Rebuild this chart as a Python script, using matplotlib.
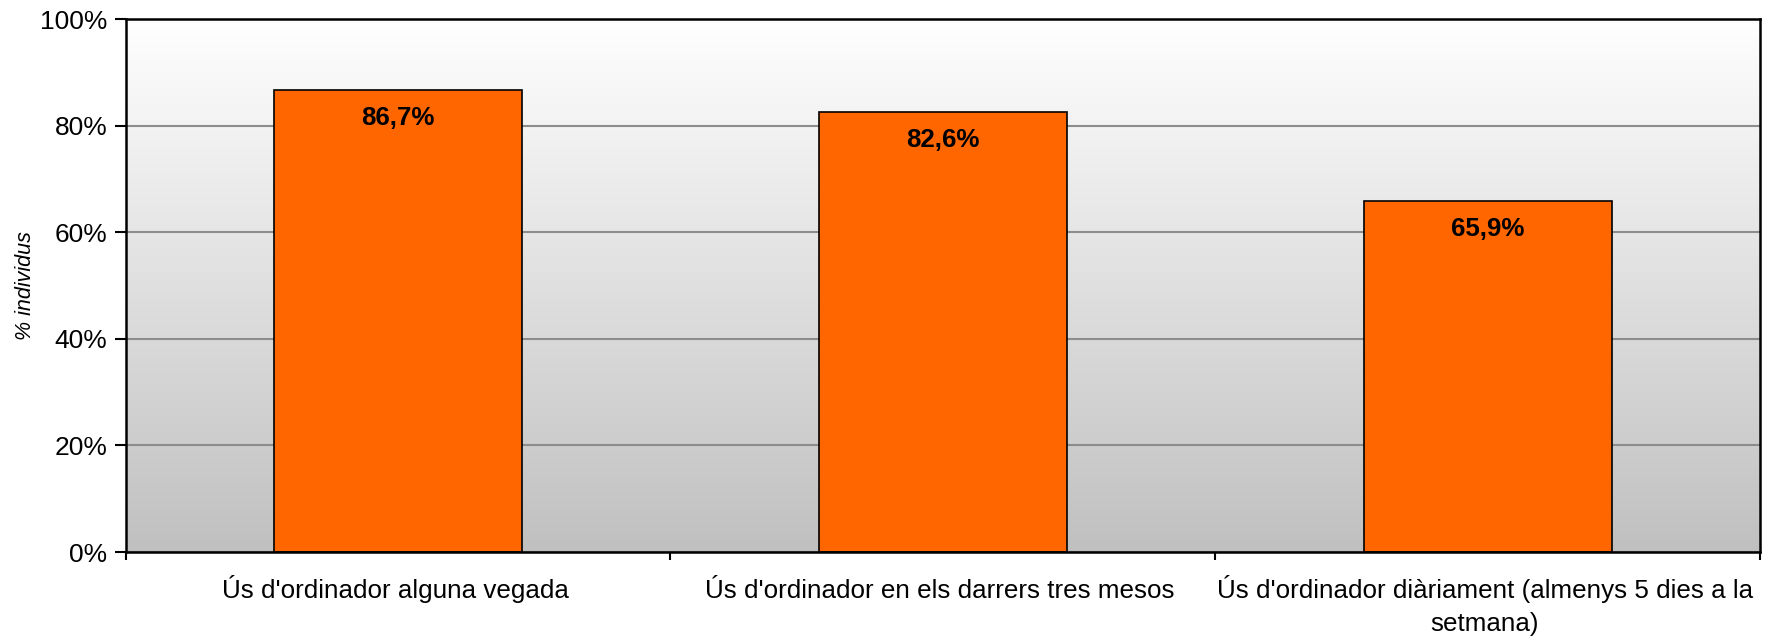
import numpy as np
import matplotlib.pyplot as plt
from matplotlib.colors import LinearSegmentedColormap
from matplotlib.transforms import blended_transform_factory

categories = [
    "Ús d'ordinador alguna vegada",
    "Ús d'ordinador en els darrers tres mesos",
    "Ús d'ordinador diàriament (almenys 5 dies a la\nsetmana)",
]
values = [86.7, 82.6, 65.9]
value_labels = ["86,7%", "82,6%", "65,9%"]
yticks = [0, 20, 40, 60, 80, 100]
ytick_labels = ["0%", "20%", "40%", "60%", "80%", "100%"]

plt.rcParams["font.family"] = ["Liberation Sans", "DejaVu Sans"]

fig = plt.figure(figsize=(17.74, 6.37), dpi=100)
ax = fig.add_axes([0.0708, 0.1334, 0.9214, 0.8366])

# background gradient, white at top to grey at bottom
bg = LinearSegmentedColormap.from_list("bg", ["#c0c0c0", "#ffffff"])
grad = np.linspace(0, 1, 256).reshape(-1, 1)
ax.imshow(grad, cmap=bg, origin="lower", aspect="auto",
          extent=[0, 1, 0, 1], transform=ax.transAxes, zorder=0)

x = np.arange(len(categories))
ax.bar(x, values, width=0.455, color="#ff6600", edgecolor="black",
       linewidth=1.2, zorder=3)

for xi, v, lab in zip(x, values, value_labels):
    ax.annotate(lab, (xi, v), xytext=(0, -20), textcoords="offset points",
                ha="center", va="center", fontsize=18.6, fontweight="bold",
                zorder=4)

ax.set_xlim(-0.5, len(categories) - 0.5)
ax.set_ylim(0, 100)
ax.set_yticks(yticks)
ax.set_yticklabels(ytick_labels, fontsize=19)
ax.yaxis.grid(True, color="#8c8c8c", linewidth=1.5, zorder=1)
ax.set_axisbelow(True)

# ticks at the category boundaries, labels centred under the bars
ax.set_xticks(np.arange(-0.5, len(categories), 1.0))
ax.set_xticklabels([])
ax.tick_params(axis="x", length=6, width=1.5, direction="out")
ax.tick_params(axis="y", length=8, width=1.5, direction="out", pad=5)

# one text per line so every first line sits on the same baseline
trans = blended_transform_factory(ax.transData, ax.transAxes)
for xi, cat in zip(x, categories):
    for j, line in enumerate(cat.split("\n")):
        ax.annotate(line, (xi, 0), xycoords=trans,
                    xytext=(-2, -32.8 - 24 * j), textcoords="offset points",
                    ha="center", va="baseline", fontsize=18.7,
                    annotation_clip=False)

for s in ax.spines.values():
    s.set_linewidth(1.8)
    s.set_color("black")
    s.set_zorder(5)

ax.set_ylabel("% individus", fontsize=15.5, fontstyle="italic", labelpad=3)

fig.savefig("out.png", dpi=100)
